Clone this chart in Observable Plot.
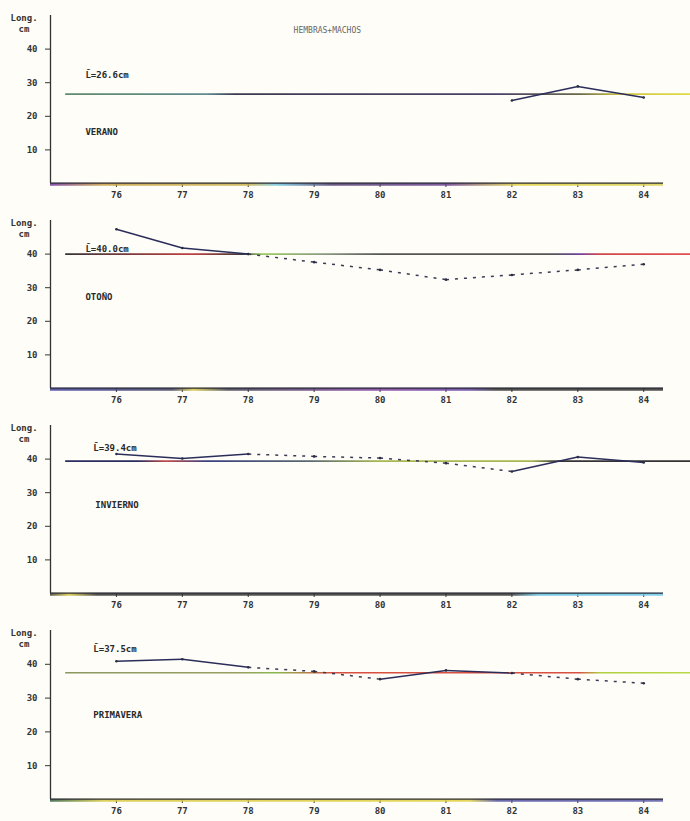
<!DOCTYPE html>
<html>
<head>
<meta charset="utf-8">
<script src="https://cdn.jsdelivr.net/npm/d3@7"></script>
<script src="https://cdn.jsdelivr.net/npm/@observablehq/plot@0.6"></script>
<style>
  html, body { margin: 0; padding: 0; background: #fefdf8; }
  #chart { width: 690px; }
  #chart svg { display: block; }
</style>
</head>
<body>
<div id="chart"></div>
<script>
// ---- data ----
const years = [76, 77, 78, 79, 80, 81, 82, 83, 84];
const yTicks = [10, 20, 30, 40];
const seasons = ["VERANO", "OTOÑO", "INVIERNO", "PRIMAVERA"];
const means = [26.6, 40.0, 39.4, 37.5];
const verano    = [null, null, null, null, null, null, 24.7, 28.9, 25.6];
const otono     = [47.4, 41.8, 40.0, 37.6, 35.3, 32.4, 33.8, 35.3, 37.0];
const invierno  = [41.5, 40.2, 41.5, 40.8, 40.3, 38.8, 36.3, 40.6, 39.0];
const primavera = [40.9, 41.5, 39.1, 37.9, 35.6, 38.2, 37.4, 35.6, 34.4];
// segment starting at year i is estimated (dotted) when flag true
const veranoEst    = [false, false, false, false, false, false, false, false];
const otonoEst     = [false, false, true, true, true, true, true, true];
const inviernoEst  = [false, false, true, true, true, true, false, false];
const primaveraEst = [false, false, true, true, false, false, true, true];
const title = "HEMBRAS+MACHOS";

// ---- presentation config ----
const series = [verano, otono, invierno, primavera];
const estimated = [veranoEst, otonoEst, inviernoEst, primaveraEst];
const labelPos = [
  {mx: 75.53, my: 32.4, sx: 75.53, sy: 15.2},
  {mx: 75.53, my: 41.6, sx: 75.53, sy: 27.1},
  {mx: 75.65, my: 43.4, sx: 75.68, sy: 26.2},
  {mx: 75.65, my: 44.6, sx: 75.65, sy: 25.0}
];
const meanStops = [
  [[0.09,"#5f8a6a"],[0.30,"#5f8a90"],[0.34,"#3a3850"],[0.55,"#48405e"],[0.72,"#4a3f68"],[0.84,"#6a6848"],[0.90,"#cfc640"],[1,"#e0da48"]],
  [[0.09,"#333338"],[0.28,"#c04040"],[0.35,"#3a3a3a"],[0.38,"#9ccc60"],[0.47,"#8a9a80"],[0.55,"#555"],[0.80,"#555"],[0.84,"#7040a0"],[0.87,"#d04848"],[1,"#e05050"]],
  [[0.09,"#2a2c60"],[0.20,"#2a2c60"],[0.24,"#c44a4a"],[0.30,"#3a4080"],[0.45,"#5a6a70"],[0.55,"#a8b850"],[0.77,"#a8b850"],[0.81,"#333"],[1,"#333"]],
  [[0.09,"#8a9860"],[0.35,"#98a060"],[0.40,"#8ab850"],[0.48,"#d85040"],[0.84,"#d85040"],[0.87,"#b0d040"],[1,"#b8d848"]]
];
const axisStops = [
  [[0.07,"#7030a0"],[0.15,"#c8a040"],[0.36,"#c8b048"],[0.40,"#70c8e0"],[0.48,"#504070"],[0.65,"#6a4090"],[0.75,"#e0d040"],[0.96,"#d8d050"]],
  [[0.07,"#4040a0"],[0.25,"#404060"],[0.28,"#d8c840"],[0.33,"#404050"],[0.55,"#8040a0"],[0.68,"#6040a0"],[0.72,"#333"],[0.96,"#333"]],
  [[0.07,"#333"],[0.10,"#d8c840"],[0.14,"#333"],[0.74,"#333"],[0.78,"#60c0e0"],[0.96,"#70c8e8"]],
  [[0.07,"#2a6040"],[0.15,"#d8c840"],[0.68,"#e0d040"],[0.72,"#5050a0"],[0.96,"#5a5aa8"]]
];

function gradientMark(id, stops) {
  return () => {
    const defs = d3.create("svg:defs");
    const g = defs.append("linearGradient")
      .attr("id", id).attr("gradientUnits", "userSpaceOnUse")
      .attr("x1", 0).attr("x2", 690).attr("y1", 0).attr("y2", 0);
    for (const [o, c] of stops) g.append("stop").attr("offset", o).attr("stop-color", c);
    return defs.node();
  };
}

const container = document.getElementById("chart");

series.forEach((vals, p) => {
  const pts = years.map((yr, i) => ({year: yr, value: vals[i]})).filter(d => d.value != null);
  const segs = [];
  for (let i = 0; i < years.length - 1; i++) {
    if (vals[i] == null || vals[i + 1] == null) continue;
    segs.push({x1: years[i], y1: vals[i], x2: years[i + 1], y2: vals[i + 1], est: estimated[p][i]});
  }
  const lp = labelPos[p];
  const marks = [
    gradientMark(`mean${p}`, meanStops[p]),
    gradientMark(`axis${p}`, axisStops[p]),
    Plot.ruleY([means[p]], {x1: 75.23, x2: 84.72, stroke: `url(#mean${p})`, strokeWidth: 1.7}),
    Plot.link(segs.filter(d => !d.est), {x1: "x1", y1: "y1", x2: "x2", y2: "y2", stroke: "#2b2d5a", strokeWidth: 1.5}),
    Plot.link(segs.filter(d => d.est), {x1: "x1", y1: "y1", x2: "x2", y2: "y2", stroke: "#3a3a55", strokeWidth: 1.5, strokeDasharray: "3,6"}),
    Plot.dot(pts, {x: "year", y: "value", r: 1.3, fill: "#2b2d40", stroke: "none"}),
    Plot.ruleX([75], {y1: 0, y2: 50, stroke: "#333", strokeWidth: 1.3}),
    Plot.axisY({ticks: yTicks, tickSize: 5, tickPadding: 8, stroke: "#333", fill: "#333", label: null}),
    Plot.axisX({ticks: years, tickSize: 4, tickPadding: 4, stroke: "#333", fill: "#333", label: null, tickFormat: d => String(d)}),
    Plot.ruleY([0], {x1: 75, x2: 84.3, stroke: `url(#axis${p})`, strokeWidth: 3, dy: 0.8, strokeOpacity: 0.85}),
    Plot.ruleY([0], {x1: 75, x2: 84.3, stroke: "#2e2e3a", strokeWidth: 1.4, dy: -0.4}),
    Plot.text(["Long."], {frameAnchor: "top-left", dx: -40, dy: 3, textAnchor: "start", lineAnchor: "middle", fill: "#333"}),
    Plot.text(["cm"], {frameAnchor: "top-left", dx: -32, dy: 14, textAnchor: "start", lineAnchor: "middle", fill: "#333"}),
    Plot.text([means[p]], {x: lp.mx, y: lp.my, text: d => `L\u0304=${d.toFixed(1)}cm`, textAnchor: "start", fill: "#2a2a2a"}),
    Plot.text([seasons[p]], {x: lp.sx, y: lp.sy, text: d => d, textAnchor: "start", fill: "#2a2a2a"})
  ];
  if (p === 0) {
    marks.push(Plot.text([title], {x: 79.2, y: 45.5, text: d => d, fill: "#666", fontWeight: "normal", fontSize: 8}));
  }
  const chart = Plot.plot({
    width: 690,
    height: p === 3 ? 206 : 205,
    marginLeft: 50,
    marginRight: 27,
    marginTop: 15,
    marginBottom: 22,
    x: {domain: [75, 84.3], label: null},
    y: {domain: [0, 50], label: null},
    style: {background: "transparent", fontFamily: "'DejaVu Sans Mono', monospace", fontSize: "9px", fontWeight: "bold", color: "#333", overflow: "visible"},
    marks
  });
  container.appendChild(chart);
});
</script>
</body>
</html>
